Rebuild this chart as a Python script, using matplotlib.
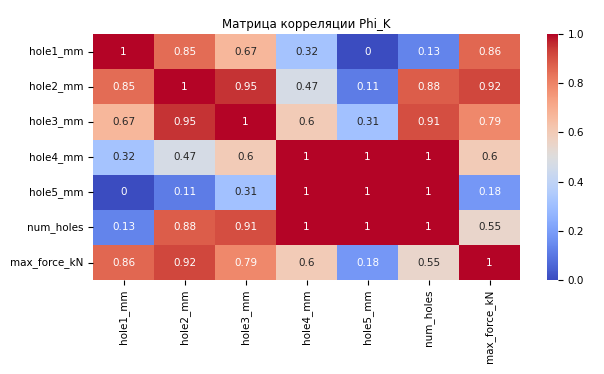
import numpy as np
import pandas as pd
import matplotlib
matplotlib.use("Agg")
import matplotlib.pyplot as plt
import seaborn as sns

labels = ["hole1_mm", "hole2_mm", "hole3_mm", "hole4_mm", "hole5_mm", "num_holes", "max_force_kN"]

row_hole1 = [1, 0.85, 0.67, 0.32, 0, 0.13, 0.86]
row_hole2 = [0.85, 1, 0.95, 0.47, 0.11, 0.88, 0.92]
row_hole3 = [0.67, 0.95, 1, 0.6, 0.31, 0.91, 0.79]
row_hole4 = [0.32, 0.47, 0.6, 1, 1, 1, 0.6]
row_hole5 = [0, 0.11, 0.31, 1, 1, 1, 0.18]
row_num = [0.13, 0.88, 0.91, 1, 1, 1, 0.55]
row_force = [0.86, 0.92, 0.79, 0.6, 0.18, 0.55, 1]

phik = pd.DataFrame(
    [row_hole1, row_hole2, row_hole3, row_hole4, row_hole5, row_num, row_force],
    index=labels, columns=labels,
)

plt.rcParams["font.size"] = 7.5
fig = plt.figure(figsize=(6.04, 3.74), dpi=100)
ax = fig.add_axes([0.154, 0.251, 0.707, 0.658])
cax = fig.add_axes([0.906, 0.251, 0.018, 0.658])

sns.heatmap(phik, annot=True, cmap="coolwarm", vmin=0, vmax=1,
            ax=ax, cbar_ax=cax, annot_kws={"fontsize": 7.5})

ax.set_title("Матрица корреляции Phi_K", fontsize=8.5, pad=4)
ax.tick_params(labelsize=7.5)
plt.setp(ax.get_xticklabels(), rotation=90)
plt.setp(ax.get_yticklabels(), rotation=0)
cax.tick_params(labelsize=7.5)

fig.savefig("out.png", dpi=100)
